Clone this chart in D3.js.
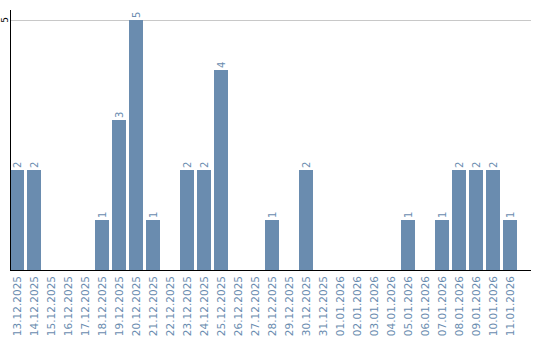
<!DOCTYPE html>
<html>
<head>
<meta charset="utf-8">
<script src="https://cdn.jsdelivr.net/npm/d3@7"></script>
<style>
  body { margin: 0; background: #fff; }
  svg text { font-family: "DejaVu Sans", sans-serif; }
</style>
</head>
<body>
<svg id="chart" width="540" height="340"></svg>
<script>
var dates = ["13.12.2025","14.12.2025","15.12.2025","16.12.2025","17.12.2025","18.12.2025",
  "19.12.2025","20.12.2025","21.12.2025","22.12.2025","23.12.2025","24.12.2025","25.12.2025",
  "26.12.2025","27.12.2025","28.12.2025","29.12.2025","30.12.2025","31.12.2025","01.01.2026",
  "02.01.2026","03.01.2026","04.01.2026","05.01.2026","06.01.2026","07.01.2026","08.01.2026",
  "09.01.2026","10.01.2026","11.01.2026"];
var counts = [2,2,0,0,0,1,3,5,1,0,2,2,4,0,0,1,0,2,0,0,0,0,0,1,0,1,2,2,2,1];
var yTicks = [5];

var color = "#6a8caf";
var svg = d3.select("#chart");

// date + count pairs, only the non-empty days get a value label
var rows = dates.map(function(d, i) { return { date: d, count: counts[i] }; });

var x = d3.scaleBand()
    .domain(dates)
    .range([10, 517])
    .paddingInner(3 / 17)
    .paddingOuter(0);

var y = d3.scaleLinear()
    .domain([0, 5])
    .range([270, 20]);

// grid line
svg.selectAll(".grid")
  .data(yTicks)
  .enter().append("line")
    .attr("x1", 10).attr("x2", 531)
    .attr("y1", function(d) { return y(d) + 0.5; })
    .attr("y2", function(d) { return y(d) + 0.5; })
    .attr("stroke", "#c8c8c8");

// bars
svg.selectAll(".bar")
  .data(rows)
  .enter().append("rect")
    .attr("x", function(d) { return x(d.date); })
    .attr("y", function(d) { return y(d.count); })
    .attr("width", x.bandwidth())
    .attr("height", function(d) { return y(0) - y(d.count); })
    .attr("fill", color);

// value labels
svg.selectAll(".val")
  .data(rows.filter(function(d) { return d.count > 0; }))
  .enter().append("text")
    .attr("transform", function(d) {
      return "translate(" + (x(d.date) + x.bandwidth() / 2 + 3.5) + "," + (y(d.count) - 2) + ") rotate(-90)";
    })
    .attr("font-size", 10)
    .attr("fill", color)
    .text(function(d) { return d.count; });

// y axis
svg.append("line")
    .attr("x1", 10.5).attr("x2", 10.5)
    .attr("y1", 10).attr("y2", 270)
    .attr("stroke", "#000");

svg.selectAll(".ytick")
  .data(yTicks)
  .enter().append("text")
    .attr("transform", function(d) { return "translate(8," + y(d) + ") rotate(-90)"; })
    .attr("text-anchor", "middle")
    .attr("font-size", 9)
    .attr("fill", "#000")
    .text(function(d) { return d; });

// x axis
svg.append("line")
    .attr("x1", 10).attr("x2", 531)
    .attr("y1", 270.5).attr("y2", 270.5)
    .attr("stroke", "#000");

svg.selectAll(".xlab")
  .data(dates)
  .enter().append("text")
    .attr("transform", function(d) {
      return "translate(" + (x(d) + x.bandwidth() / 2 + 4) + ",276) rotate(-90)";
    })
    .attr("text-anchor", "end")
    .attr("font-size", 10.5)
    .attr("fill", color)
    .text(function(d) { return d; });
</script>
</body>
</html>
